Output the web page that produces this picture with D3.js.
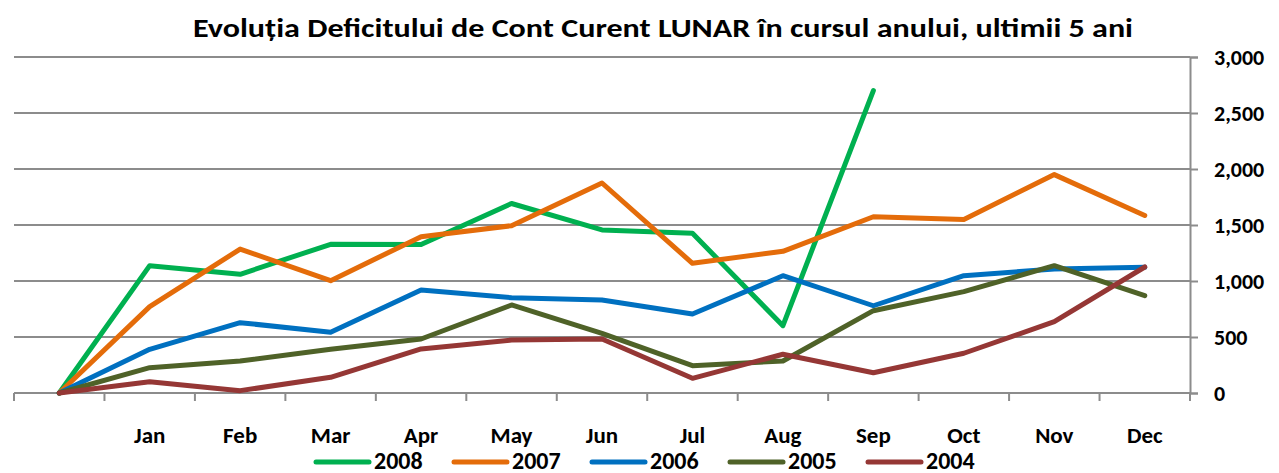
<!DOCTYPE html>
<html lang="en">
  <head>
    <meta charset="utf-8" />
    <title>Evoluția Deficitului de Cont Curent LUNAR</title>
    <script src="https://cdn.jsdelivr.net/npm/d3@7"></script>
    <style>
      body { margin: 0; background: #fff; }
      svg text { font-family: Carlito, "Open Sans", Lato, sans-serif; font-weight: bold; fill: #000; }
    </style>
  </head>
  <body>
    <script>
      // categories (first one is an empty start point at 0)
      const months = ["", "Jan", "Feb", "Mar", "Apr", "May", "Jun", "Jul", "Aug", "Sep", "Oct", "Nov", "Dec"];
      const yTicks = [0, 500, 1000, 1500, 2000, 2500, 3000];

      const years = ["2008", "2007", "2006", "2005", "2004"];
      const colors = ["#00b050", "#e46c0a", "#0070c0", "#4f6228", "#953735"];

      // values
      const v2008 = [0, 1137, 1060, 1328, 1326, 1692, 1456, 1426, 601, 2700];
      const v2007 = [0, 771, 1285, 1003, 1396, 1494, 1875, 1158, 1265, 1574, 1550, 1950, 1585];
      const v2006 = [0, 390, 628, 542, 920, 851, 830, 705, 1047, 779, 1047, 1107, 1122];
      const v2005 = [0, 226, 286, 390, 482, 786, 533, 244, 286, 735, 905, 1137, 869];
      const v2004 = [0, 101, 21, 140, 393, 473, 482, 131, 346, 181, 355, 637, 1125];
      const series = [v2008, v2007, v2006, v2005, v2004];

      const width = 1279, height = 473;
      const svg = d3.select("body").append("svg")
        .attr("width", width)
        .attr("height", height);

      const x = d3.scaleBand().domain(months).range([14, 1190]);
      const y = d3.scaleLinear().domain([0, 3000]).range([393, 57]);
      const cx = (m) => x(m) + x.bandwidth() / 2;

      // title
      svg.append("text")
        .attr("x", 663)
        .attr("y", 37)
        .attr("text-anchor", "middle")
        .style("font-size", "26px")
        .attr("textLength", 940)
        .attr("lengthAdjust", "spacingAndGlyphs")
        .text("Evoluția Deficitului de Cont Curent LUNAR în cursul anului, ultimii 5 ani");

      // gridlines
      svg.append("g")
        .selectAll("line")
        .data(yTicks)
        .enter()
        .append("line")
        .attr("x1", 14)
        .attr("x2", 1190)
        .attr("y1", (d) => y(d))
        .attr("y2", (d) => y(d))
        .attr("stroke", "#8c8c8c")
        .attr("stroke-width", 2);

      // right value axis
      const yAxis = svg.append("g")
        .attr("transform", "translate(1190,0)")
        .call(d3.axisRight(y).tickValues(yTicks).tickFormat(d3.format(",")).tickSize(8).tickPadding(16));
      yAxis.select(".domain").attr("stroke", "#8c8c8c").attr("stroke-width", 2);
      yAxis.selectAll(".tick line").attr("stroke", "#8c8c8c").attr("stroke-width", 2);
      yAxis.selectAll("text")
        .style("font-size", "22px")
        .attr("dy", "0.34em");

      // category ticks on band boundaries
      const bounds = months.map((m) => x(m)).concat([x.range()[1]]);
      svg.append("g")
        .selectAll("line")
        .data(bounds)
        .enter()
        .append("line")
        .attr("x1", (d) => d)
        .attr("x2", (d) => d)
        .attr("y1", 393)
        .attr("y2", 401)
        .attr("stroke", "#8c8c8c")
        .attr("stroke-width", 2);

      // category labels
      svg.append("g")
        .selectAll("text")
        .data(months)
        .enter()
        .append("text")
        .attr("x", (d) => cx(d))
        .attr("y", 443)
        .attr("text-anchor", "middle")
        .style("font-size", "23px")
        .text((d) => d);

      // lines
      const line = d3.line()
        .x((d, i) => cx(months[i]))
        .y((d) => y(d));

      svg.append("g")
        .selectAll("path")
        .data(series)
        .enter()
        .append("path")
        .attr("d", line)
        .attr("fill", "none")
        .attr("stroke", (d, i) => colors[i])
        .attr("stroke-width", 5)
        .attr("stroke-linejoin", "round")
        .attr("stroke-linecap", "round");

      // legend
      const legend = svg.append("g")
        .selectAll("g")
        .data(years)
        .enter()
        .append("g")
        .attr("transform", (d, i) => `translate(${316 + i * 138},462)`);
      legend.append("line")
        .attr("x1", 0)
        .attr("x2", 53)
        .attr("stroke", (d, i) => colors[i])
        .attr("stroke-width", 5)
        .attr("stroke-linecap", "round");
      legend.append("text")
        .attr("x", 58)
        .attr("y", 7)
        .style("font-size", "24px")
        .text((d) => d);
    </script>
  </body>
</html>
